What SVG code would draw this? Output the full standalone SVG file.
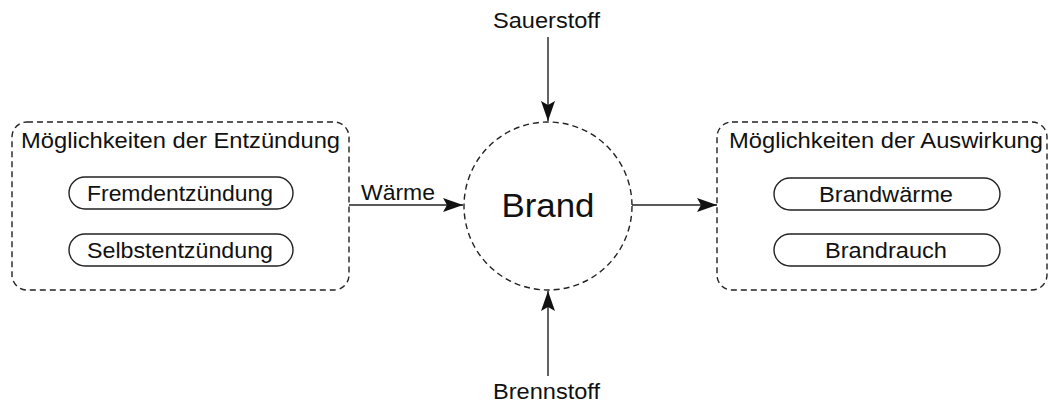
<svg xmlns="http://www.w3.org/2000/svg" width="1049" height="403" viewBox="0 0 1049 403">
<style>
text{font-family:"Liberation Sans",Arial,sans-serif;fill:#111}
.grp{fill:none;stroke:#222;stroke-width:1.4;stroke-dasharray:6 4}
.pill{fill:#fff;stroke:#222;stroke-width:1.4}
.t{font-size:22px}
.edge{stroke:#222;stroke-width:1.4;fill:none}
</style>
<defs>
<marker id="ah" markerUnits="userSpaceOnUse" markerWidth="22" markerHeight="16" refX="20" refY="7" orient="auto">
<path d="M0,0 L20,7 L0,14 L4,7 z" fill="#111"/>
</marker>
</defs>
<rect width="1049" height="403" fill="#fff"/>
<g id="entzuendung">
<rect class="grp" x="12" y="122" width="337" height="168" rx="15"/>
<text class="t" x="21" y="148" textLength="319" lengthAdjust="spacingAndGlyphs">Möglichkeiten der Entzündung</text>
<g id="fremd">
<rect class="pill" x="69" y="177" width="224" height="32" rx="16"/>
<text class="t" x="87" y="201" textLength="186" lengthAdjust="spacingAndGlyphs">Fremdentzündung</text>
</g>
<g id="selbst">
<rect class="pill" x="69" y="234" width="224" height="32" rx="16"/>
<text class="t" x="87" y="258" textLength="186" lengthAdjust="spacingAndGlyphs">Selbstentzündung</text>
</g>
</g>
<g id="brand">
<circle class="grp" cx="548" cy="206" r="84"/>
<text x="548" y="217" font-size="34" text-anchor="middle" textLength="93" lengthAdjust="spacingAndGlyphs">Brand</text>
</g>
<g id="sauerstoff">
<text x="493" y="28" class="t" textLength="107" lengthAdjust="spacingAndGlyphs">Sauerstoff</text>
</g>
<g id="brennstoff">
<text x="493" y="399" class="t" textLength="107" lengthAdjust="spacingAndGlyphs">Brennstoff</text>
</g>
<g id="auswirkung">
<rect class="grp" x="717" y="122" width="330" height="168" rx="15"/>
<text class="t" x="729" y="148" textLength="314" lengthAdjust="spacingAndGlyphs">Möglichkeiten der Auswirkung</text>
<g id="brandwaerme">
<rect class="pill" x="774" y="178" width="226" height="32" rx="16"/>
<text class="t" x="819" y="202" textLength="134" lengthAdjust="spacingAndGlyphs">Brandwärme</text>
</g>
<g id="brandrauch">
<rect class="pill" x="774" y="234" width="226" height="32" rx="16"/>
<text class="t" x="825" y="258" textLength="122" lengthAdjust="spacingAndGlyphs">Brandrauch</text>
</g>
</g>
<g id="connectors">
<path class="edge" d="M349,205 H463" marker-end="url(#ah)"/>
<text class="t" x="361" y="200" textLength="74" lengthAdjust="spacingAndGlyphs">Wärme</text>
<path class="edge" d="M548,37 V121" marker-end="url(#ah)"/>
<path class="edge" d="M548,376 V291" marker-end="url(#ah)"/>
<path class="edge" d="M632,205 H717" marker-end="url(#ah)"/>
</g>
</svg>
